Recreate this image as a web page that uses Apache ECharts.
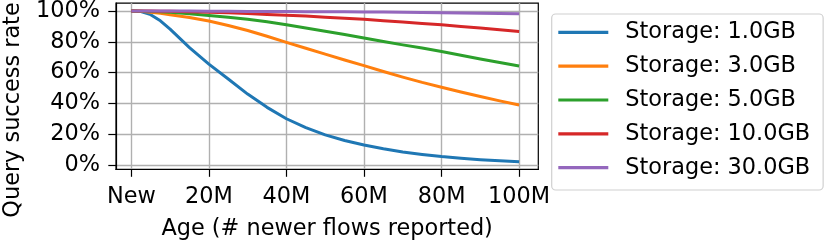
<!DOCTYPE html>
<html>
<head>
<meta charset="utf-8">
<script src="https://cdn.jsdelivr.net/npm/echarts@6/dist/echarts.min.js"></script>
<style>
html,body{margin:0;padding:0;background:#fff;}
#chart{width:830px;height:249px;}
</style>
</head>
<body>
<div id="chart"></div>
<script>
const ages = [0,2.5,5,7.5,10,15,20,25,30,35,40,45,50,55,60,65,70,75,80,85,90,95,100];
const storage1 = [100,99.6,97.6,93.6,88.2,76.2,65.5,55.8,46,37.4,30,24.2,19.5,15.9,12.9,10.5,8.4,6.8,5.4,4.3,3.4,2.7,2.1];
const storage3 = [100,99.8,99.2,98.5,97.6,95.8,93.5,90.6,87.3,83.6,79.6,75.8,72,68.2,64.5,60.7,57,53.6,50.5,47.4,44.5,41.6,38.9];
const storage5 = [100,99.9,99.7,99.5,99.2,98.2,97,96,94.7,93,91,89,86.9,84.7,82.4,80.2,78,75.9,73.7,71.3,68.8,66.5,64.3];
const storage10 = [100,100,99.95,99.9,99.8,99.5,99.2,98.8,98.3,97.8,97.3,96.7,96,95.3,94.6,93.7,92.8,91.9,91,90,88.9,87.8,86.7];
const storage30 = [100,100,100,100,100,99.95,99.9,99.8,99.75,99.7,99.65,99.55,99.5,99.45,99.4,99.3,99.2,99.05,98.9,98.75,98.6,98.4,98.2];
const seriesNames = ['Storage: 1.0GB','Storage: 3.0GB','Storage: 5.0GB','Storage: 10.0GB','Storage: 30.0GB'];
const seriesValues = [storage1, storage3, storage5, storage10, storage30];
const colors = ['#1f77b4','#ff7f0e','#2ca02c','#d62728','#9467bd'];
const xTicks = [0,20,40,60,80,100];
const xTickLabels = ['New','20M','40M','60M','80M','100M'];
const yTicks = [0,20,40,60,80,100];
const yTickLabels = ['0%','20%','40%','60%','80%','100%'];

const FONT = 'DejaVu Sans';
const FS = 22.4;
const chart = echarts.init(document.getElementById('chart'), null, {renderer:'canvas'});
chart.setOption({
  animation: false,
  backgroundColor: '#fff',
  color: colors,
  grid: {left:116, top:2, width:422.3, height:167.3, show:true, borderColor:'#000', borderWidth:1.2, backgroundColor:'transparent'},
  xAxis: {
    type:'value', min:-3.95, max:104.95,
    axisLine:{show:true, onZero:false, lineStyle:{color:'#000', width:1.2}},
    axisTick:{show:true, inside:false, length:7.5, customValues:xTicks, lineStyle:{color:'#000', width:1.2}},
    axisLabel:{customValues:xTicks, margin:17, color:'#000', fontFamily:FONT, fontSize:FS,
      formatter:(v)=>xTickLabels[xTicks.indexOf(v)]},
    splitLine:{show:true, lineStyle:{color:'#b0b0b0', width:1.4}},
    name:'Age (# newer flows reported)', nameLocation:'middle', nameGap:49,
    nameTextStyle:{color:'#000', fontFamily:FONT, fontSize:FS}
  },
  yAxis: {
    type:'value', min:-2.85, max:105.15,
    axisLine:{show:true, onZero:false, lineStyle:{color:'#000', width:1.2}},
    axisTick:{show:true, inside:false, length:7.7, customValues:yTicks, lineStyle:{color:'#000', width:1.2}},
    axisLabel:{customValues:yTicks, margin:16, color:'#000', fontFamily:FONT, fontSize:FS,
      formatter:(v)=>yTickLabels[yTicks.indexOf(v)]},
    splitLine:{show:true, lineStyle:{color:'#b0b0b0', width:1.4}}
  },
  graphic: [{
    type:'text', x:13, y:110, rotation:Math.PI/2,
    style:{text:'Query success rate', fontFamily:FONT, fontSize:FS, fill:'#000', align:'center', verticalAlign:'middle'}
  }],
  legend: {
    orient:'vertical', left:551.7, top:14,
    padding:[6.3,13,10.3,6.6],
    icon:'rect', itemWidth:50, itemHeight:3.2, itemGap:9.85,
    backgroundColor:'rgba(255,255,255,0.8)', borderColor:'#d0d0d0', borderWidth:1.2, borderRadius:4,
    textStyle:{color:'#000', fontFamily:FONT, fontSize:FS, lineHeight:24, padding:[0,0,0,12]},
    data: seriesNames
  },
  series: seriesNames.map((n,i)=>({
    name:n, type:'line', showSymbol:false, symbol:'none', smooth:false,
    lineStyle:{width:3, color:colors[i], join:'round'},
    itemStyle:{color:colors[i]},
    data: ages.map((a,j)=>[a, seriesValues[i][j]])
  }))
});
</script>
</body>
</html>
